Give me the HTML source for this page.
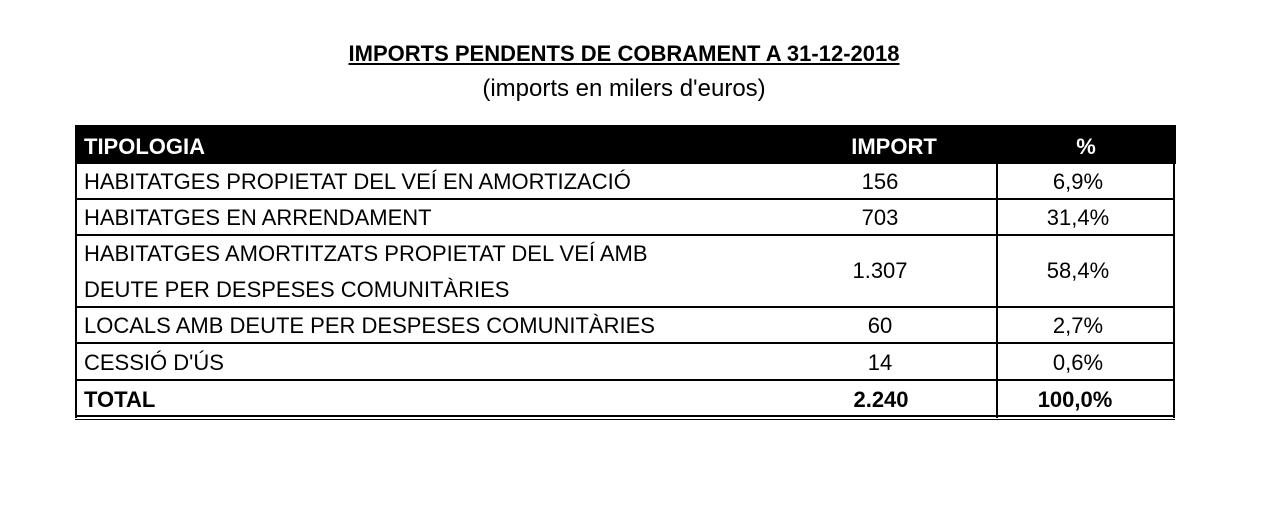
<!DOCTYPE html>
<html><head><meta charset="utf-8"><style>
body{margin:0;width:1262px;height:505px;background:#fff;position:relative;font-family:"Liberation Sans",Arial,sans-serif;color:#000;overflow:hidden}
.t{position:absolute;white-space:nowrap;font-size:22px;line-height:24px;transform:scaleX(1.0);transform-origin:0 0}
.c{transform-origin:50% 0}
.b{font-weight:bold}
.hl{position:absolute;background:#000;height:2px}
.vl{position:absolute;background:#000;width:2px}
</style></head><body>
<div class="t b c" style="left:324px;top:42px;width:600px;text-align:center;text-decoration:underline;font-size:22px">IMPORTS PENDENTS DE COBRAMENT A 31-12-2018</div>
<div class="t c" style="left:324px;top:77px;width:600px;text-align:center;font-size:24px">(imports en milers d'euros)</div>
<div style="position:absolute;left:75px;top:125px;width:1101px;height:39px;background:#000"></div>
<div class="t b" style="left:84px;top:135px;color:#fff">TIPOLOGIA</div>
<div class="t b c" style="left:794px;top:135px;width:200px;text-align:center;color:#fff">IMPORT</div>
<div class="t b c" style="left:986px;top:135px;width:200px;text-align:center;color:#fff">%</div>
<div class="vl" style="left:75px;top:125px;height:293px"></div>
<div class="vl" style="left:1173px;top:125px;height:293px"></div>
<div class="vl" style="left:996px;top:164px;height:254px"></div>
<div class="hl" style="left:75px;top:198px;width:1100px"></div>
<div class="hl" style="left:75px;top:234px;width:1100px"></div>
<div class="hl" style="left:75px;top:306px;width:1100px"></div>
<div class="hl" style="left:75px;top:342px;width:1100px"></div>
<div class="hl" style="left:75px;top:379px;width:1100px"></div>
<div class="hl" style="left:75px;top:415px;width:1100px"></div>
<div class="hl" style="left:75px;top:419px;width:1100px;height:1px"></div>

<div class="t" style="left:84px;top:170px">HABITATGES PROPIETAT DEL VEÍ EN AMORTIZACIÓ</div>
<div class="t c" style="left:780px;top:170px;width:200px;text-align:center">156</div>
<div class="t c" style="left:978px;top:170px;width:200px;text-align:center">6,9%</div>

<div class="t" style="left:84px;top:206px">HABITATGES EN ARRENDAMENT</div>
<div class="t c" style="left:780px;top:206px;width:200px;text-align:center">703</div>
<div class="t c" style="left:978px;top:206px;width:200px;text-align:center">31,4%</div>

<div class="t" style="left:84px;top:242px">HABITATGES AMORTITZATS PROPIETAT DEL VEÍ AMB</div>
<div class="t" style="left:84px;top:278px">DEUTE PER DESPESES COMUNITÀRIES</div>
<div class="t c" style="left:780px;top:259px;width:200px;text-align:center">1.307</div>
<div class="t c" style="left:978px;top:259px;width:200px;text-align:center">58,4%</div>

<div class="t" style="left:84px;top:314px">LOCALS AMB DEUTE PER DESPESES COMUNITÀRIES</div>
<div class="t c" style="left:780px;top:314px;width:200px;text-align:center">60</div>
<div class="t c" style="left:978px;top:314px;width:200px;text-align:center">2,7%</div>

<div class="t" style="left:84px;top:351px">CESSIÓ D'ÚS</div>
<div class="t c" style="left:780px;top:351px;width:200px;text-align:center">14</div>
<div class="t c" style="left:978px;top:351px;width:200px;text-align:center">0,6%</div>

<div class="t b" style="left:84px;top:388px">TOTAL</div>
<div class="t b c" style="left:781px;top:388px;width:200px;text-align:center">2.240</div>
<div class="t b c" style="left:975px;top:388px;width:200px;text-align:center">100,0%</div>
</body></html>
